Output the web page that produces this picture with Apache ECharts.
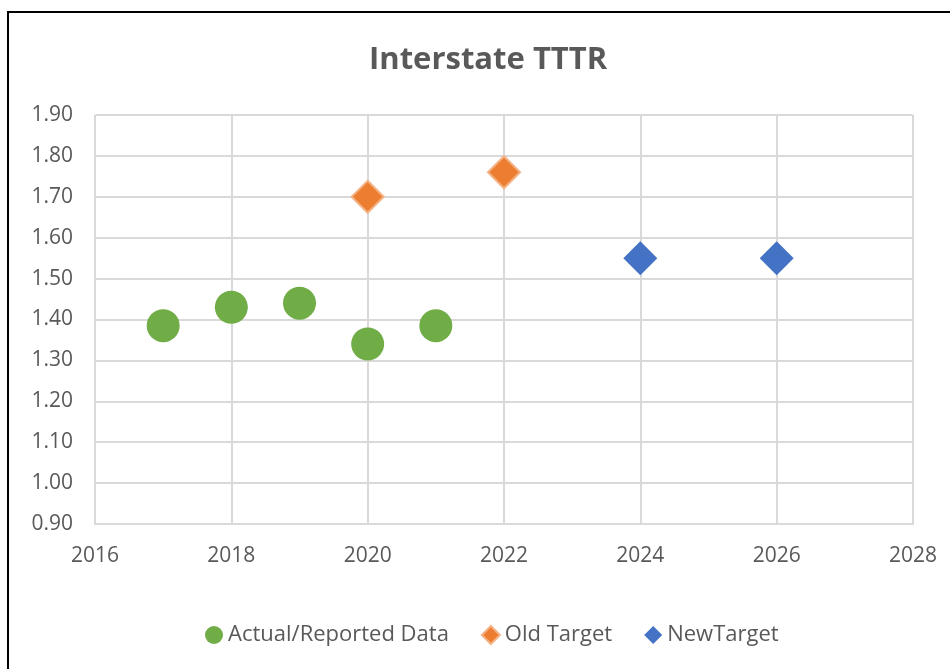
<!DOCTYPE html>
<html>
<head>
<meta charset="utf-8">
<script src="https://cdn.jsdelivr.net/npm/echarts@6/dist/echarts.min.js"></script>
<style>
  html, body { margin: 0; padding: 0; background: #fff; }
  #mychart { width: 950px; height: 669px; }
</style>
</head>
<body>
<div id="mychart"></div>
<script>
// data
var actualYears = [2017, 2018, 2019, 2020, 2021]
var actualValues = [1.385, 1.43, 1.44, 1.34, 1.385]
var oldTargetYears = [2020, 2022]
var oldTargetValues = [1.70, 1.76]
var newTargetYears = [2024, 2026]
var newTargetValues = [1.55, 1.55]

function pairs(xs, ys) {
  return xs.map(function (x, i) { return [x, ys[i]] })
}

var textColor = '#595959'
var gridColor = '#d9d9d9'
var font = 'Open Sans'

var myChart = echarts.init(document.getElementById('mychart'))

var option = {
  animation: false,
  backgroundColor: '#fff',
  graphic: [{
    type: 'rect',
    shape: { x: 8, y: 12, width: 1000, height: 1000 },
    style: { fill: 'none', stroke: '#000', lineWidth: 2 }
  }],
  title: {
    text: 'Interstate TTTR',
    left: 364,
    top: 40,
    textStyle: { color: textColor, fontSize: 31, fontWeight: 'bold', fontFamily: font }
  },
  legend: {
    bottom: 18,
    left: 200,
    itemGap: 32,
    itemWidth: 18,
    itemHeight: 18,
    textStyle: { color: textColor, fontSize: 22, fontFamily: font },
    data: [
      { name: 'Actual/Reported Data', icon: 'circle', itemStyle: { color: '#70ad47' } },
      { name: 'Old Target', icon: 'diamond', itemStyle: { color: '#ed7d31' } },
      { name: 'NewTarget', icon: 'diamond', itemStyle: { color: '#4472c4' } }
    ]
  },
  grid: { left: 95, right: 37, top: 115, bottom: 145 },
  xAxis: {
    type: 'value',
    min: 2016,
    max: 2028,
    interval: 2,
    axisLine: { show: true, lineStyle: { color: gridColor, width: 2 } },
    axisTick: { show: false },
    axisLabel: {
      color: textColor, fontSize: 21, fontFamily: font, margin: 22,
      formatter: function (v) { return String(v) }
    },
    splitLine: { show: true, lineStyle: { color: gridColor, width: 2 } }
  },
  yAxis: {
    type: 'value',
    min: 0.9,
    max: 1.9,
    interval: 0.1,
    axisLine: { show: false },
    axisTick: { show: false },
    axisLabel: {
      color: textColor, fontSize: 21, fontFamily: font, margin: 22,
      formatter: function (v) { return v.toFixed(2) }
    },
    splitLine: { show: true, lineStyle: { color: gridColor, width: 2 } }
  },
  series: [
    {
      name: 'Actual/Reported Data',
      type: 'scatter',
      symbol: 'circle',
      symbolSize: 33,
      itemStyle: { color: '#70ad47', opacity: 1 },
      data: pairs(actualYears, actualValues)
    },
    {
      name: 'Old Target',
      type: 'scatter',
      symbol: 'diamond',
      symbolSize: 32,
      itemStyle: { color: '#ed7d31', opacity: 1, borderColor: '#f4b183', borderWidth: 2 },
      data: pairs(oldTargetYears, oldTargetValues)
    },
    {
      name: 'NewTarget',
      type: 'scatter',
      symbol: 'diamond',
      symbolSize: 34,
      itemStyle: { color: '#4472c4', opacity: 1 },
      data: pairs(newTargetYears, newTargetValues)
    }
  ]
}

myChart.setOption(option)
</script>
</body>
</html>
